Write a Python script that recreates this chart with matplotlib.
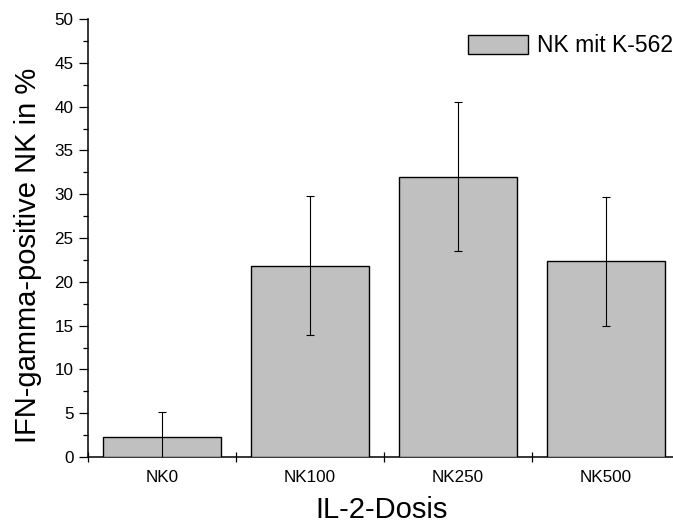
import matplotlib
matplotlib.use("Agg")
import matplotlib.pyplot as plt
from matplotlib.ticker import MultipleLocator, FixedLocator

plt.rcParams['font.family'] = ['Liberation Sans', 'DejaVu Sans']

# data
categories = ['NK0', 'NK100', 'NK250', 'NK500']
values = [2.3, 21.85, 32.0, 22.35]
errors = [2.8, 7.9, 8.5, 7.35]
series_name = 'NK mit K-562'

fig = plt.figure(figsize=(6.73, 5.24), dpi=100, facecolor='white')
# right edge of the axes sits just past the figure edge, like the original
ax = fig.add_axes([88 / 673, 67 / 524, 592 / 673, 438 / 524])

x = list(range(len(categories)))
ax.bar(x, values, width=0.8, color='#C0C0C0', edgecolor='black',
       linewidth=1.0, label=series_name, zorder=3)
ax.errorbar(x, values, yerr=errors, fmt='none', ecolor='black',
            elinewidth=0.8, capsize=3.2, capthick=0.8, zorder=4)

ax.set_xlim(-0.5, len(categories) - 0.5)
ax.set_ylim(0, 50)

for side in ('top', 'right'):
    ax.spines[side].set_visible(False)
for side in ('left', 'bottom'):
    ax.spines[side].set_linewidth(1.1)

# y axis: major every 5, minor every 2.5, both outward
ax.yaxis.set_major_locator(MultipleLocator(5))
ax.yaxis.set_minor_locator(MultipleLocator(2.5))
ax.tick_params(axis='y', which='major', direction='out', length=6.5,
               width=0.9, labelsize=12.3, pad=4)
ax.tick_params(axis='y', which='minor', direction='out', length=3.6,
               width=0.9)

# x axis: crossing ticks between groups, labels under the bars
ax.xaxis.set_major_locator(FixedLocator([i - 0.5 for i in range(len(categories) + 1)]))
ax.xaxis.set_minor_locator(FixedLocator(x))
ax.set_xticklabels([], minor=False)
ax.set_xticklabels(categories, minor=True)
ax.tick_params(axis='x', which='major', direction='inout', length=7.2,
               width=0.9)
ax.tick_params(axis='x', which='minor', length=0, labelsize=12.3, pad=9)

ax.set_xlabel('IL-2-Dosis', fontsize=21)
ax.set_ylabel('IFN-gamma-positive NK in %', fontsize=21)
ax.xaxis.set_label_coords(0.496, -0.089)
ax.yaxis.set_label_coords(-0.078, 0.46)

ax.legend(loc='upper left', bbox_to_anchor=(468 / 673, 1 - 34 / 524),
          bbox_transform=fig.transFigure, frameon=False, fontsize=16.5,
          borderpad=0, borderaxespad=0, handlelength=2.62,
          handleheight=0.9, handletextpad=0.39)

fig.savefig('out.png', dpi=100, facecolor='white')
